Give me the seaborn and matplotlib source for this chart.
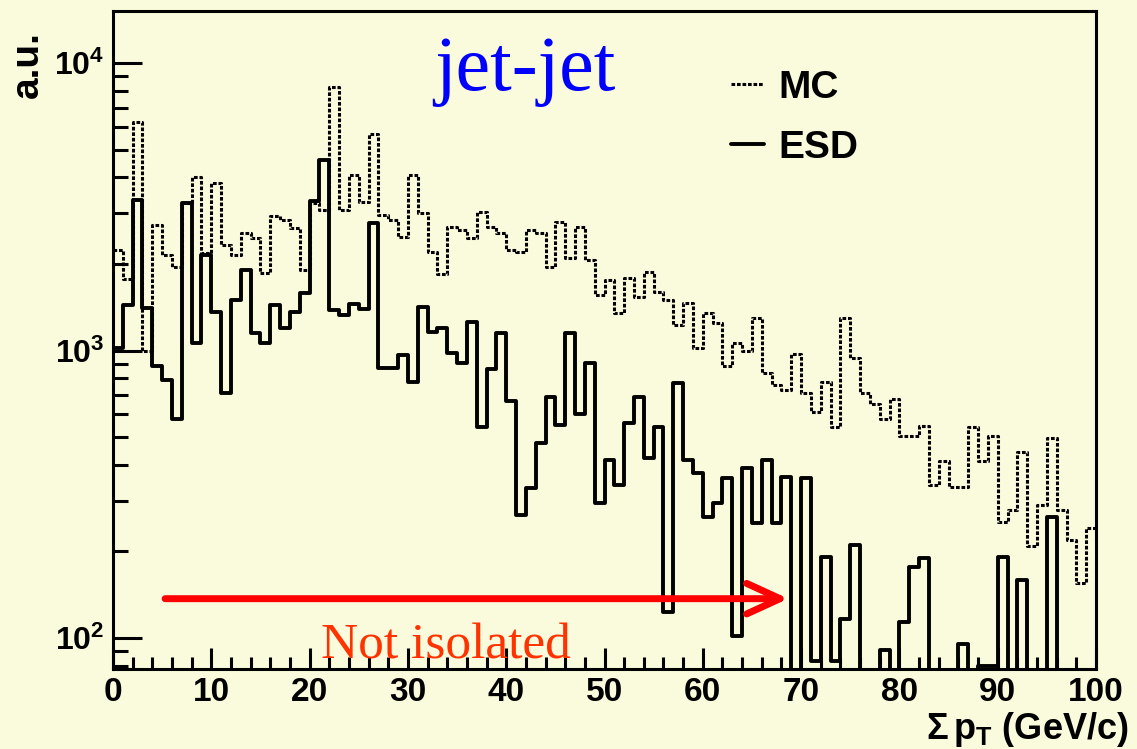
import numpy as np
import pandas as pd
import matplotlib
matplotlib.use("Agg")
import matplotlib.pyplot as plt
from matplotlib.ticker import FixedLocator, FixedFormatter, LogLocator, NullFormatter, MultipleLocator
import seaborn as sns

# 1 GeV/c bins of the summed transverse momentum in the isolation cone
bin_edges = np.arange(0, 101, 1)

mc_counts = [2240, 1770, 6230, 1000, 2730, 2150, 1950, 3260, 4010, 2180,
             3820, 2330, 2150, 2560, 2460, 1860, 2940, 2840, 2670, 1900,
             3260, 3080, 8250, 3080, 4080, 3290, 5660, 2960, 2840, 2480,
             4080, 3010, 2200, 1850, 2690, 2620, 2460, 3030, 2690, 2560,
             2240, 2200, 2620, 2560, 1950, 2800, 2100, 2690, 2060, 1560,
             1760, 1350, 1790, 1540, 1870, 1600, 1500, 1230, 1460, 1020,
             1350, 1250, 880, 1060, 1000, 1300, 835, 760, 730, 970,
             710, 610, 780, 540, 1300, 940, 710, 650, 580, 680,
             505, 505, 545, 340, 413, 335, 335, 540, 413, 505,
             253, 279, 444, 209, 290, 496, 279, 219, 155, 241]

esd_counts = [1020, 1440, 3340, 1400, 880, 790, 580, 3260, 1060, 2150,
              1360, 710, 1500, 1900, 1150, 1060, 1440, 1200, 1360, 1585,
              3310, 4600, 1380, 1330, 1450, 1390, 2780, 870, 870, 965,
              780, 1420, 1160, 1200, 980, 905, 1260, 540, 860, 1150,
              670, 268, 332, 477, 690, 550, 1150, 600, 905, 295,
              416, 340, 560, 690, 423, 540, 123, 770, 416, 375,
              264, 295, 360, 102, 390, 251, 416, 251, 363, 0,
              360, 83, 191, 83, 116, 211, 0, 0, 91, 0,
              114, 177, 190, 0, 0, 0, 95, 0, 80, 80,
              191, 0, 159, 0, 0, 264, 0, 0, 0, 0]

series_names = ["MC", "ESD"]
x_tick_values = [0, 10, 20, 30, 40, 50, 60, 70, 80, 90, 100]
x_tick_labels = ["0", "10", "20", "30", "40", "50", "60", "70", "80", "90", "100"]
y_tick_values = [1e2, 1e3, 1e4]
y_tick_labels = [r"$\mathbf{10^{2}}$", r"$\mathbf{10^{3}}$", r"$\mathbf{10^{4}}$"]

sns.set_style("ticks")
plt.rcParams.update({
    "font.family": ["Liberation Sans", "DejaVu Sans"],
    "font.weight": "bold",
    "mathtext.fontset": "custom",
    "mathtext.rm": "Liberation Sans",
    "mathtext.bf": "Liberation Sans:bold",
    "mathtext.it": "Liberation Sans:italic:bold",
    "text.color": "black",
    "axes.labelcolor": "black",
    "axes.edgecolor": "black",
    "xtick.color": "black",
    "ytick.color": "black",
    "xtick.labelcolor": "black",
    "ytick.labelcolor": "black",
})

bg = "#FAFADC"
fig = plt.figure(figsize=(11.37, 7.49), dpi=100, facecolor=bg)
ax = fig.add_axes([113 / 1137, 80 / 749, 983 / 1137, 658 / 749])
ax.set_facecolor(bg)

centers = (bin_edges[:-1] + bin_edges[1:]) / 2
df = pd.DataFrame({
    "sum_pt": np.concatenate([centers, centers]),
    "weight": np.array(mc_counts + esd_counts, dtype=float),
    "sample": [series_names[0]] * len(mc_counts) + [series_names[1]] * len(esd_counts),
})

n_bins = len(centers)
x_range = (float(bin_edges[0]), float(bin_edges[-1]))

sns.histplot(data=df[df["sample"] == "MC"], x="sum_pt", weights="weight",
             bins=n_bins, binrange=x_range, element="step", fill=False, color="black",
             linewidth=2.2, linestyle=(0, (1.2, 0.6)), ax=ax)
sns.histplot(data=df[df["sample"] == "ESD"], x="sum_pt", weights="weight",
             bins=n_bins, binrange=x_range, element="step", fill=False, color="black",
             linewidth=2.8, ax=ax)

ax.set_yscale("log")
ax.set_xlim(0, 100)
ax.set_ylim(78, 15170)

ax.xaxis.set_major_locator(FixedLocator(x_tick_values))
ax.xaxis.set_major_formatter(FixedFormatter(x_tick_labels))
ax.xaxis.set_minor_locator(MultipleLocator(2))
ax.yaxis.set_major_locator(FixedLocator(y_tick_values))
ax.yaxis.set_major_formatter(FixedFormatter(y_tick_labels))
ax.yaxis.set_minor_locator(LogLocator(base=10, subs=np.arange(2, 10)))
ax.yaxis.set_minor_formatter(NullFormatter())

ax.tick_params(axis="both", which="both", direction="in", top=False, right=False,
               color="black", labelcolor="black")
ax.tick_params(axis="y", which="major", length=21, width=2.2, labelsize=23, pad=6)
ax.tick_params(axis="y", which="minor", length=11, width=2.2)
ax.tick_params(axis="x", which="major", length=15, width=2.2, labelsize=24, pad=6)
ax.tick_params(axis="x", which="minor", length=8.5, width=2.2)

for side in ["left", "bottom", "right", "top"]:
    ax.spines[side].set_visible(True)
    ax.spines[side].set_linewidth(2.2)
    ax.spines[side].set_color("black")

ax.set_xlabel(r"$\mathbf{\Sigma\,p_{T}}$ (GeV/c)", fontsize=26, fontweight="bold",
              loc="right", color="black")
ax.xaxis.set_label_coords(1.033, -0.063)
ax.set_ylabel("a.u.", fontsize=28, fontweight="bold", color="black")
ax.yaxis.set_label_coords(-0.068, 0.919)

handles = [ax.lines[0], ax.lines[1]]
ax.legend(handles=handles, labels=series_names, loc="upper left",
          bbox_to_anchor=(0.629, 0.911), frameon=False, fontsize=28,
          handlelength=0.85, handletextpad=0.35, labelspacing=0.63,
          borderpad=0, borderaxespad=0)

ax.text(0.419, 0.88, "jet-jet", transform=ax.transAxes, ha="center", va="baseline",
        fontsize=56, color="#0000FF", family="Liberation Serif", fontweight="normal")

ax.annotate("", xy=(68.7, 137), xytext=(5.3, 137),
            arrowprops=dict(arrowstyle="->,head_length=24,head_width=11",
                            mutation_scale=1, lw=5, color="#FF0000",
                            shrinkA=0, shrinkB=0))
ax.text(0.339, 0.0167, "Not isolated", transform=ax.transAxes, ha="center", va="baseline",
        fontsize=37, color="#FF3300", family="Liberation Serif", fontweight="normal", zorder=5)

fig.savefig("out.png", dpi=100, facecolor=bg)
